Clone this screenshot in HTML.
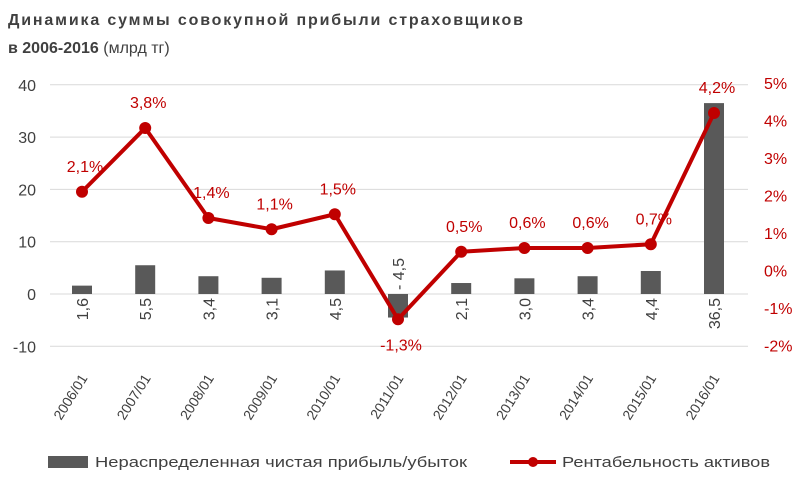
<!DOCTYPE html>
<html><head><meta charset="utf-8"><style>
body{margin:0;background:#fff;}
svg{display:block;font-family:"Liberation Sans","DejaVu Sans",sans-serif;}
</style></head><body>
<svg width="800" height="482" viewBox="0 0 800 482">
<text x="8" y="25" font-size="16" font-weight="bold" fill="#404040" textLength="515" lengthAdjust="spacing">Динамика  суммы  совокупной  прибыли  страховщиков</text>
<text x="8" y="53" font-size="16" fill="#404040"><tspan font-weight="bold">в 2006-2016</tspan> (млрд тг)</text>
<g id="grid"></g><g id="bars"></g><g id="line"></g><g id="labels"></g>
<g>
<rect x="48" y="456" width="40" height="12" fill="#595959"/>
<text x="95" y="467" font-size="15" fill="#404040" textLength="372" lengthAdjust="spacingAndGlyphs">Нераспределенная чистая прибыль/убыток</text>
<line x1="510" y1="462" x2="556" y2="462" stroke="#c00000" stroke-width="4"/>
<circle cx="533" cy="462" r="5" fill="#c00000"/>
<text x="562" y="467" font-size="15" fill="#404040" textLength="208" lengthAdjust="spacingAndGlyphs">Рентабельность активов</text>
</g>
</svg>
<script>
const categories=["2006/01","2007/01","2008/01","2009/01","2010/01","2011/01","2012/01","2013/01","2014/01","2015/01","2016/01"];
const profit=[1.6,5.5,3.4,3.1,4.5,-4.5,2.1,3.0,3.4,4.4,36.5];
const roa=[2.1,3.8,1.4,1.1,1.5,-1.3,0.5,0.6,0.6,0.7,4.2];
const leftTicks=[40,30,20,10,0,-10];
const rightTicks=[5,4,3,2,1,0,-1,-2];
const NS="http://www.w3.org/2000/svg";
const yL=v=>294-v*5.23;
const yR=v=>270.5-v*37.5;
const xC=i=>82+i*63.2;
const fmt=v=>v.toFixed(1).replace('.',',');
function mk(tag,attrs,parent,txt){const e=document.createElementNS(NS,tag);for(const k in attrs)e.setAttribute(k,attrs[k]);if(txt!==undefined)e.textContent=txt;document.getElementById(parent).appendChild(e);return e;}
leftTicks.forEach(t=>{
 const g=mk('line',{x1:50,x2:748,y1:yL(t),y2:yL(t),stroke:'#d9d9d9','stroke-width':1},'grid');
 
 
 const l=mk('text',{x:36,y:yL(t)+6,'font-size':16,fill:'#404040','text-anchor':'end'},'grid',String(t));
 
 
});
rightTicks.forEach(t=>{
 const l=mk('text',{x:764,y:yR(t)+6,'font-size':16,fill:'#c00000'},'grid',t+'%');
 
 
});
profit.forEach((v,i)=>{
 const x=xC(i),y0=yL(0),y1=yL(v);
 const b=mk('rect',{x:x-10,y:Math.min(y0,y1),width:20,height:Math.abs(y1-y0),fill:'#595959'},'bars');
 
 
 const ly=v<0?y0-4:y0+4;
 const t=mk('text',{transform:`translate(${x+6},${ly}) rotate(-90)`,'font-size':16,fill:'#404040','text-anchor':v<0?'start':'end'},'labels',v<0?'- '+fmt(-v):fmt(v));
 
 
 const c=mk('text',{transform:`translate(${x+6},${378}) rotate(-58)`,'font-size':14,fill:'#404040','text-anchor':'end'},'labels',categories[i]);
 
 
});
const pts=roa.map((v,i)=>xC(i)+','+yR(v)).join(' ');
const pl=mk('polyline',{points:pts,fill:'none',stroke:'#c00000','stroke-width':4,'stroke-linejoin':'round'},'line');


roa.forEach((v,i)=>{
 const c=mk('circle',{cx:xC(i),cy:yR(v),r:6,fill:'#c00000'},'line');
 
 
 const ly=v<0?yR(v)+31:yR(v)-20;
 const t=mk('text',{x:xC(i)+3,y:ly,'font-size':16,fill:'#c00000','text-anchor':'middle'},'labels',fmt(v)+'%');
 
 
});
</script>
</body></html>
